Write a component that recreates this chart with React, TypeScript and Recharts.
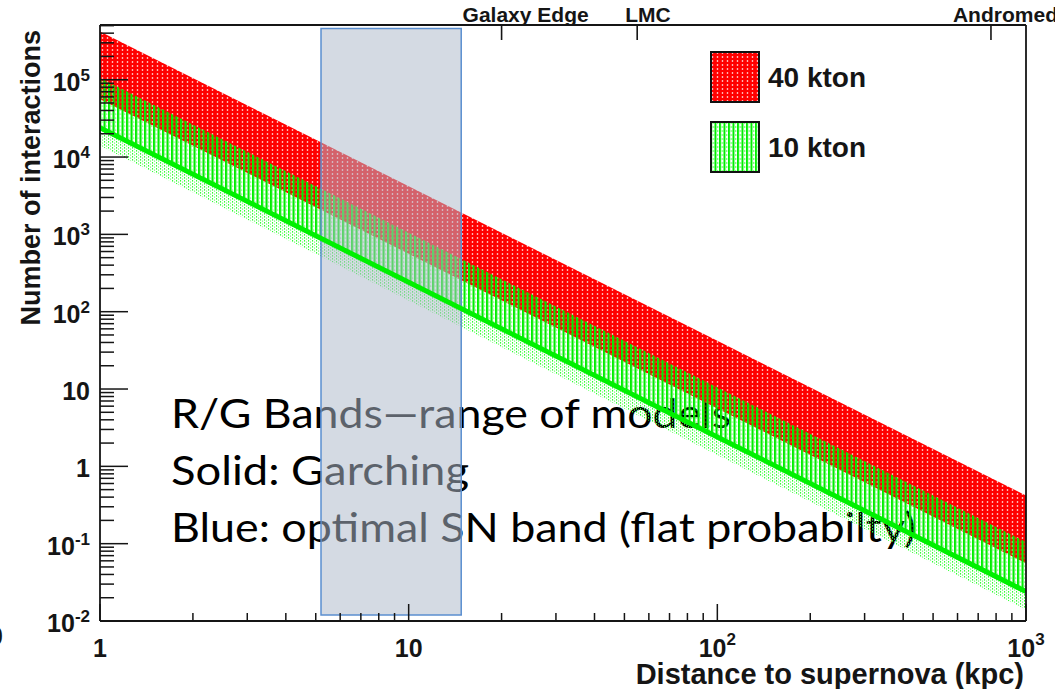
import React from 'react';
import {
  ComposedChart,
  Area,
  Line,
  XAxis,
  YAxis,
  ReferenceArea,
  Legend,
  Customized,
} from 'recharts';

// Distance to the supernova (kpc) at which the bands are sampled
const distanceKpc = [1, 10, 100, 1000];

// 40 kton detector: range of models (interactions)
const band40Low = [5.6e4, 560, 5.6, 0.056];
const band40High = [4.2e5, 4200, 42, 0.42];

// 10 kton detector: range of models and the Garching model
const band10Low = [1.4e4, 140, 1.4, 0.014];
const band10High = [1.05e5, 1050, 10.5, 0.105];
const garching10 = [2.4e4, 240, 2.4, 0.024];

// Axis ticks
const xMajorTicks = [1, 10, 100, 1000];
const yMajorTicks = [0.01, 0.1, 1, 10, 100, 1000, 10000, 100000];
const minorSteps = [2, 3, 4, 5, 6, 7, 8, 9];

// Landmarks on the upper axis
const landmarkDistances = [20, 55, 770];
const landmarkNames = ['Galaxy Edge', 'LMC', 'Andromeda'];

// Optimal supernova distance band (flat probability)
const optimalBandKpc = [5.2, 14.8];
const optimalBandCounts = [0.012, 4.6e5];

const noteLines = [
  'R/G Bands\u2014range of models',
  'Solid: Garching',
  'Blue: optimal SN band (flat probabilty)',
];

const legendNames = ['40 kton', '10 kton'];

const X_DOMAIN: [number, number] = [1, 1000];
const Y_DOMAIN: [number, number] = [0.01, 5.1e5];

const rows = distanceKpc.map((d, i) => ({
  d,
  band40: [band40Low[i], band40High[i]],
  band10Upper: [garching10[i], band10High[i]],
  band10Lower: [band10Low[i], garching10[i]],
  garching: garching10[i],
}));

const withMinors = (majors: number[], max: number) => {
  const out: number[] = [];
  majors.forEach((m) => {
    out.push(m);
    minorSteps.forEach((s) => {
      const v = m * s;
      if (v <= max) out.push(v);
    });
  });
  return out.filter((v) => v <= max);
};

const xTicks = withMinors(xMajorTicks.slice(0, 3), X_DOMAIN[1]).concat([1000]);
const yTicks = withMinors(yMajorTicks, Y_DOMAIN[1]);

const ROOT_FONT = '"Liberation Sans", Arial, Helvetica, sans-serif';
const NOTE_FONT = 'Lato, "Open Sans", sans-serif';
const INK = '#151515';

const isDecade = (v: number) => {
  const l = Math.log10(v);
  return Math.abs(l - Math.round(l)) < 1e-9;
};

const decadeParts = (v: number) => {
  const e = Math.round(Math.log10(v));
  if (e === 0) return { base: '1', exp: '' };
  if (e === 1) return { base: '10', exp: '' };
  return { base: '10', exp: e < 0 ? `-${-e}` : String(e) };
};

const YTick = (props: any) => {
  const { x, y, payload } = props;
  const v = payload.value as number;
  const major = isDecade(v);
  const p = decadeParts(v);
  return (
    <g>
      <line x1={x} x2={x + (major ? 28 : 14)} y1={y} y2={y} stroke={INK} strokeWidth={1.5} />
      {major && (
        <text
          x={x - 10}
          y={y + 11}
          textAnchor="end"
          fontFamily={ROOT_FONT}
          fontWeight="bold"
          fontSize={25}
          fill={INK}
        >
          <tspan>{p.base}</tspan>
          {p.exp && (
            <tspan dy={-10} fontSize={17}>
              {p.exp}
            </tspan>
          )}
        </text>
      )}
    </g>
  );
};

const XTick = (props: any) => {
  const { x, y, payload } = props;
  const v = payload.value as number;
  const major = isDecade(v);
  const p = decadeParts(v);
  return (
    <g>
      <line x1={x} x2={x} y1={y} y2={y - (major ? 17 : 8)} stroke={INK} strokeWidth={1.5} />
      {major && (
        <text
          x={x}
          y={y + 36}
          textAnchor="middle"
          fontFamily={ROOT_FONT}
          fontWeight="bold"
          fontSize={25}
          fill={INK}
        >
          <tspan>{p.base}</tspan>
          {p.exp && (
            <tspan dy={-12} fontSize={17}>
              {p.exp}
            </tspan>
          )}
        </text>
      )}
    </g>
  );
};

const landmarkShift: Record<string, number> = { 'Galaxy Edge': -39, LMC: -12, Andromeda: -38 };

const TopTick = (props: any) => {
  const { x, y, payload } = props;
  const i = landmarkDistances.indexOf(payload.value);
  const name = landmarkNames[i] ?? '';
  return (
    <g>
      <line x1={x} x2={x} y1={y} y2={y + 15} stroke={INK} strokeWidth={1.6} />
      <text
        x={x + (landmarkShift[name] ?? 0)}
        y={y - 3}
        textAnchor="start"
        fontFamily={ROOT_FONT}
        fontWeight="bold"
        fontSize={21}
        fill={INK}
      >
        {name}
      </text>
    </g>
  );
};

// Axis titles and the explanatory notes on the plot
const TextLayer = () => (
  <g>
    <text
      transform="translate(40,30) rotate(-90)"
      textAnchor="end"
      fontFamily={ROOT_FONT}
      fontWeight="bold"
      fontSize={27}
      fill={INK}
    >
      Number of interactions
    </text>
    <text
      x={1024}
      y={684}
      textAnchor="end"
      fontFamily={ROOT_FONT}
      fontWeight="bold"
      fontSize={29}
      fill={INK}
    >
      Distance to supernova (kpc)
    </text>
    <text x={-11} y={645} fontFamily={ROOT_FONT} fontWeight="bold" fontSize={25} fill={INK}>
      0
    </text>
    {noteLines.map((t, i) => (
      <text
        key={t}
        x={171}
        y={428 + i * 57}
        fontFamily={NOTE_FONT}
        fontSize={40}
        fill="#000"
        textLength={[560, 298, 745][i]}
        lengthAdjust="spacingAndGlyphs"
      >
        {t}
      </text>
    ))}
  </g>
);

const LegendBox = () => (
  <svg width={180} height={130} style={{ display: 'block', overflow: 'visible' }}>
    {legendNames.map((name, i) => (
      <g key={name} transform={`translate(0,${i * 70})`}>
        <rect
          x={1}
          y={1}
          width={48}
          height={50}
          fill={i === 0 ? 'url(#hatch40)' : 'url(#hatch10Legend)'}
          stroke="#111"
          strokeWidth={2}
        />
        <text x={58} y={36} fontFamily={ROOT_FONT} fontWeight="bold" fontSize={28} fill={INK}>
          {name}
        </text>
      </g>
    ))}
  </svg>
);

export default function App() {
  return (
    <div style={{ position: 'absolute', left: 0, top: 0, width: 1055, height: 689, background: '#fff' }}>
      <ComposedChart
        width={1055}
        height={689}
        data={rows}
        margin={{ top: 0, right: 0, bottom: 0, left: 0 }}
      >
        <defs>
          <pattern id="hatch40" patternUnits="userSpaceOnUse" width="5" height="4">
            <rect width="5" height="4" fill="#ff0000" />
            <ellipse cx="2.5" cy="2" rx="0.8" ry="1.1" fill="#ffc8c8" />
          </pattern>
          <pattern id="hatch10" patternUnits="userSpaceOnUse" width="4.5" height="4">
            <rect x="0" y="0" width="2.2" height="4" fill="#00ee00" />
            <circle cx="3.3" cy="2" r="0.6" fill="#22ff22" />
          </pattern>
          <pattern id="hatch10Legend" patternUnits="userSpaceOnUse" width="4.5" height="4">
            <rect width="4.5" height="4" fill="#ffffff" />
            <rect x="0" y="0" width="2" height="4" fill="#00ee00" />
            <circle cx="3.3" cy="2" r="0.7" fill="#22ff22" />
          </pattern>
          <pattern id="dots10" patternUnits="userSpaceOnUse" width="4" height="3">
            <rect x="0" y="0" width="1.1" height="1.6" fill="#33ff33" />
            <rect x="2" y="1.5" width="1.1" height="1.2" fill="#66ff66" />
          </pattern>
        </defs>

        <XAxis
          dataKey="d"
          type="number"
          scale="log"
          domain={X_DOMAIN}
          allowDataOverflow
          ticks={xTicks}
          interval={0}
          tick={<XTick />}
          tickLine={false}
          tickSize={0}
          tickMargin={0}
          height={68}
          axisLine={{ stroke: INK, strokeWidth: 1.8 }}
        />
        <XAxis
          xAxisId="top"
          dataKey="d"
          orientation="top"
          type="number"
          scale="log"
          domain={X_DOMAIN}
          allowDataOverflow
          ticks={landmarkDistances}
          interval={0}
          tick={<TopTick />}
          tickLine={false}
          tickSize={0}
          tickMargin={0}
          height={25}
          axisLine={{ stroke: INK, strokeWidth: 1.8 }}
        />
        <YAxis
          type="number"
          scale="log"
          domain={Y_DOMAIN}
          allowDataOverflow
          ticks={yTicks}
          interval={0}
          tick={<YTick />}
          tickLine={false}
          tickSize={0}
          tickMargin={0}
          width={100}
          axisLine={{ stroke: INK, strokeWidth: 1.8 }}
        />
        <YAxis
          yAxisId="right"
          orientation="right"
          type="number"
          domain={[0, 1]}
          tick={false}
          tickLine={false}
          width={29}
          axisLine={{ stroke: INK, strokeWidth: 1.8 }}
        />

        <Area
          dataKey="band40"
          name="40 kton"
          type="linear"
          stroke="none"
          fill="url(#hatch40)"
          fillOpacity={1}
          isAnimationActive={false}
        />
        <Area
          dataKey="band10Lower"
          name="10 kton lower"
          type="linear"
          stroke="none"
          fill="url(#dots10)"
          fillOpacity={1}
          legendType="none"
          isAnimationActive={false}
        />
        <Area
          dataKey="band10Upper"
          name="10 kton"
          type="linear"
          stroke="none"
          fill="url(#hatch10)"
          fillOpacity={1}
          isAnimationActive={false}
        />
        <Line
          dataKey="garching"
          name="Garching"
          type="linear"
          stroke="#00f000"
          strokeWidth={5}
          dot={false}
          legendType="none"
          isAnimationActive={false}
        />
        {/* binds the landmark axis to the data so its ticks are laid out */}
        <Line
          xAxisId="top"
          dataKey="garching"
          name="landmarks"
          type="linear"
          stroke="none"
          strokeOpacity={0}
          dot={false}
          activeDot={false}
          legendType="none"
          isAnimationActive={false}
        />

        <Customized component={TextLayer} />

        <ReferenceArea
          x1={optimalBandKpc[0]}
          x2={optimalBandKpc[1]}
          y1={optimalBandCounts[0]}
          y2={optimalBandCounts[1]}
          fill="#adbaca"
          fillOpacity={0.53}
          stroke="#5b8fd0"
          strokeWidth={1.5}
        />

        <Legend
          layout="vertical"
          align="center"
          verticalAlign="middle"
          wrapperStyle={{ position: 'absolute', left: 710, top: 51, width: 190, height: 130 }}
          content={() => <LegendBox />}
        />
      </ComposedChart>
    </div>
  );
}
